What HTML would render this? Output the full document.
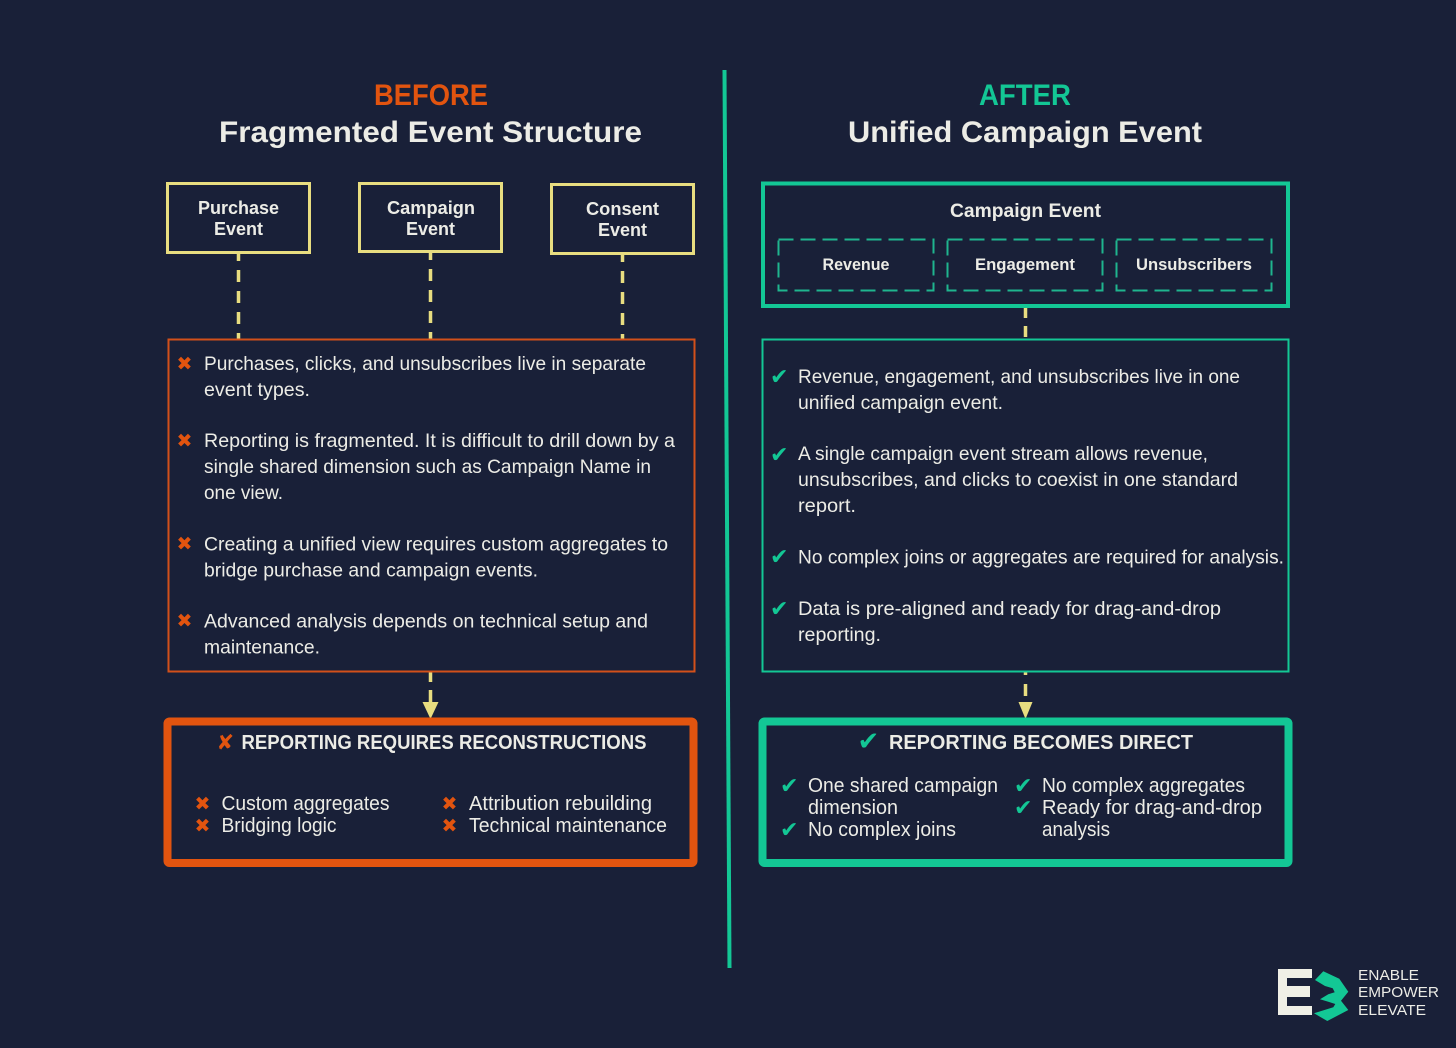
<!DOCTYPE html>
<html><head><meta charset="utf-8">
<style>
html,body{margin:0;padding:0;background:#192038;width:1456px;height:1048px;overflow:hidden}
svg{display:block}
text{font-family:"Liberation Sans",sans-serif;fill:#ecece6}
.bd{font-weight:bold}
.i{font-family:"DejaVu Sans",sans-serif}
</style></head><body>
<svg xmlns="http://www.w3.org/2000/svg" width="1456" height="1048" viewBox="0 0 1456 1048">
<rect width="1456" height="1048" fill="#192038"/>
<!-- divider -->
<line x1="724.500" y1="70" x2="729.500" y2="968" stroke="#13c795" stroke-width="4"/>
<!-- titles -->
<text x="374" y="105" font-size="30" class="bd" textLength="114" lengthAdjust="spacingAndGlyphs" style="fill:#e2540f">BEFORE</text>
<text x="219" y="142" font-size="30" class="bd" textLength="423" lengthAdjust="spacingAndGlyphs">Fragmented Event Structure</text>
<text x="979" y="105" font-size="30" class="bd" textLength="92" lengthAdjust="spacingAndGlyphs" style="fill:#13c795">AFTER</text>
<text x="848" y="142" font-size="30" class="bd" textLength="354" lengthAdjust="spacingAndGlyphs">Unified Campaign Event</text>
<!-- yellow boxes -->
<g fill="none" stroke="#e8dd80" stroke-width="3">
<rect x="167.500" y="183.500" width="142" height="69"/>
<rect x="359.500" y="183.500" width="142" height="68"/>
<rect x="551.500" y="184.500" width="142" height="69"/>
</g>
<text x="198" y="214" class="bd" font-size="18" textLength="81" lengthAdjust="spacingAndGlyphs">Purchase</text>
<text x="214" y="235" class="bd" font-size="18" textLength="49" lengthAdjust="spacingAndGlyphs">Event</text>
<text x="387" y="214" class="bd" font-size="18" textLength="88" lengthAdjust="spacingAndGlyphs">Campaign</text>
<text x="406" y="235" class="bd" font-size="18" textLength="49" lengthAdjust="spacingAndGlyphs">Event</text>
<text x="586" y="215" class="bd" font-size="18" textLength="73" lengthAdjust="spacingAndGlyphs">Consent</text>
<text x="598" y="236" class="bd" font-size="18" textLength="49" lengthAdjust="spacingAndGlyphs">Event</text>
<!-- yellow dashed -->
<g stroke="#e8dd80" stroke-width="3.500" fill="none">
<line x1="238.500" y1="253" x2="238.500" y2="339" stroke-dasharray="12 9" stroke-dashoffset="4"/>
<line x1="430.500" y1="252" x2="430.500" y2="339" stroke-dasharray="12 9" stroke-dashoffset="4"/>
<line x1="622.500" y1="254" x2="622.500" y2="339" stroke-dasharray="12 9" stroke-dashoffset="4"/>
<line x1="1025.500" y1="307" x2="1025.500" y2="339" stroke-dasharray="11 8"/>
<line x1="430.500" y1="672" x2="430.500" y2="682"/>
<line x1="430.500" y1="690" x2="430.500" y2="704"/>
<line x1="1025.500" y1="672" x2="1025.500" y2="675"/>
<line x1="1025.500" y1="684" x2="1025.500" y2="696"/>
</g>
<polygon points="422.500,702 438.500,702 430.500,719" fill="#e8dd80"/>
<polygon points="1018.500,702 1032.500,702 1025.500,719" fill="#e8dd80"/>
<!-- before body -->
<rect x="168.500" y="339.500" width="526" height="332" fill="none" stroke="#d2501a" stroke-width="2"/>
<!-- after header -->
<rect x="763" y="183.500" width="525" height="122.500" fill="none" stroke="#13c795" stroke-width="4"/>
<text x="950" y="217" class="bd" font-size="19" textLength="151" lengthAdjust="spacingAndGlyphs">Campaign Event</text>
<g fill="none" stroke="#1fb58e" stroke-width="2" stroke-dasharray="15 7">
<rect x="778.500" y="239.500" width="155" height="51"/>
<rect x="947.500" y="239.500" width="155" height="51"/>
<rect x="1116.500" y="239.500" width="155" height="51"/>
</g>
<text x="822.500" y="270" class="bd" font-size="16.500" textLength="67" lengthAdjust="spacingAndGlyphs">Revenue</text>
<text x="975" y="270" class="bd" font-size="16.500" textLength="100" lengthAdjust="spacingAndGlyphs">Engagement</text>
<text x="1136" y="270" class="bd" font-size="16.500" textLength="116" lengthAdjust="spacingAndGlyphs">Unsubscribers</text>
<!-- after body -->
<rect x="762.500" y="339.500" width="526" height="332" fill="none" stroke="#13c795" stroke-width="2"/>
<!-- before list -->
<g font-size="19.500">
<text x="204" y="370" textLength="442" lengthAdjust="spacingAndGlyphs">Purchases, clicks, and unsubscribes live in separate</text>
<text x="204" y="396" textLength="106" lengthAdjust="spacingAndGlyphs">event types.</text>
<text x="204" y="447" textLength="471" lengthAdjust="spacingAndGlyphs">Reporting is fragmented. It is difficult to drill down by a</text>
<text x="204" y="473" textLength="447" lengthAdjust="spacingAndGlyphs">single shared dimension such as Campaign Name in</text>
<text x="204" y="499" textLength="79" lengthAdjust="spacingAndGlyphs">one view.</text>
<text x="204" y="550.500" textLength="464" lengthAdjust="spacingAndGlyphs">Creating a unified view requires custom aggregates to</text>
<text x="204" y="576.500" textLength="334" lengthAdjust="spacingAndGlyphs">bridge purchase and campaign events.</text>
<text x="204" y="627.500" textLength="444" lengthAdjust="spacingAndGlyphs">Advanced analysis depends on technical setup and</text>
<text x="204" y="653.500" textLength="116" lengthAdjust="spacingAndGlyphs">maintenance.</text>
</g>
<text class="i" x="176.500" y="370" font-size="19" style="fill:#e2540f">✖</text>
<text class="i" x="176.500" y="447" font-size="19" style="fill:#e2540f">✖</text>
<text class="i" x="176.500" y="550" font-size="19" style="fill:#e2540f">✖</text>
<text class="i" x="176.500" y="627" font-size="19" style="fill:#e2540f">✖</text>
<!-- after list -->
<g font-size="19.500">
<text x="798" y="383" textLength="442" lengthAdjust="spacingAndGlyphs">Revenue, engagement, and unsubscribes live in one</text>
<text x="798" y="409" textLength="205" lengthAdjust="spacingAndGlyphs">unified campaign event.</text>
<text x="798" y="460" textLength="410" lengthAdjust="spacingAndGlyphs">A single campaign event stream allows revenue,</text>
<text x="798" y="486" textLength="440" lengthAdjust="spacingAndGlyphs">unsubscribes, and clicks to coexist in one standard</text>
<text x="798" y="512" textLength="58" lengthAdjust="spacingAndGlyphs">report.</text>
<text x="798" y="563.500" textLength="486" lengthAdjust="spacingAndGlyphs">No complex joins or aggregates are required for analysis.</text>
<text x="798" y="615" textLength="423" lengthAdjust="spacingAndGlyphs">Data is pre-aligned and ready for drag-and-drop</text>
<text x="798" y="641" textLength="83" lengthAdjust="spacingAndGlyphs">reporting.</text>
</g>
<text class="i" x="770" y="384" font-size="22" style="fill:#13c795">✔</text>
<text class="i" x="770" y="462" font-size="22" style="fill:#13c795">✔</text>
<text class="i" x="770" y="564" font-size="22" style="fill:#13c795">✔</text>
<text class="i" x="770" y="616" font-size="22" style="fill:#13c795">✔</text>
<!-- before result -->
<rect x="167.500" y="721.500" width="526" height="141.500" rx="2" fill="none" stroke="#e2540f" stroke-width="8"/>
<text class="i" x="216.500" y="749.500" font-size="21" style="fill:#e2540f">✘</text>
<text x="241.500" y="749" class="bd" font-size="20" textLength="405" lengthAdjust="spacingAndGlyphs">REPORTING REQUIRES RECONSTRUCTIONS</text>
<text x="221.500" y="810" font-size="20" textLength="168" lengthAdjust="spacingAndGlyphs">Custom aggregates</text>
<text x="221.500" y="832" font-size="20" textLength="115" lengthAdjust="spacingAndGlyphs">Bridging logic</text>
<text x="469" y="810" font-size="20" textLength="183" lengthAdjust="spacingAndGlyphs">Attribution rebuilding</text>
<text x="469" y="832" font-size="20" textLength="198" lengthAdjust="spacingAndGlyphs">Technical maintenance</text>
<text class="i" x="194.500" y="810" font-size="19" style="fill:#e2540f">✖</text>
<text class="i" x="194.500" y="832" font-size="19" style="fill:#e2540f">✖</text>
<text class="i" x="441.500" y="810" font-size="19" style="fill:#e2540f">✖</text>
<text class="i" x="441.500" y="832" font-size="19" style="fill:#e2540f">✖</text>
<!-- after result -->
<rect x="762.500" y="721.500" width="526" height="141.500" rx="2" fill="none" stroke="#13c795" stroke-width="8"/>
<text class="i" x="857.500" y="750" font-size="26" style="fill:#13c795">✔</text>
<text x="889" y="749" class="bd" font-size="20" textLength="304" lengthAdjust="spacingAndGlyphs">REPORTING BECOMES DIRECT</text>
<text x="808" y="792" font-size="20" textLength="190" lengthAdjust="spacingAndGlyphs">One shared campaign</text>
<text x="808" y="814" font-size="20" textLength="90" lengthAdjust="spacingAndGlyphs">dimension</text>
<text x="808" y="836" font-size="20" textLength="148" lengthAdjust="spacingAndGlyphs">No complex joins</text>
<text x="1042" y="792" font-size="20" textLength="203" lengthAdjust="spacingAndGlyphs">No complex aggregates</text>
<text x="1042" y="814" font-size="20" textLength="220" lengthAdjust="spacingAndGlyphs">Ready for drag-and-drop</text>
<text x="1042" y="836" font-size="20" textLength="68" lengthAdjust="spacingAndGlyphs">analysis</text>
<text class="i" x="780" y="793" font-size="22" style="fill:#13c795">✔</text>
<text class="i" x="780" y="837" font-size="22" style="fill:#13c795">✔</text>
<text class="i" x="1014" y="793" font-size="22" style="fill:#13c795">✔</text>
<text class="i" x="1014" y="815" font-size="22" style="fill:#13c795">✔</text>
<!-- logo -->
<path d="M1278 969h34v9h-25v8h23v11h-23v9h25v9h-34z" fill="#efefe6"/>
<path d="M1315 980L1323.300 971.300L1339.300 978.700L1348.300 991.700L1341 1000.700L1348.300 1010L1327.300 1021L1314 1013.300L1333.300 1007.300L1335.300 1004L1328.300 1001.700L1320 999.300L1328.300 994.300L1334.700 992.300L1332.700 988.300L1325 986Z" fill="#13c795"/>
<text x="1358" y="980" font-size="15" textLength="61" lengthAdjust="spacingAndGlyphs">ENABLE</text>
<text x="1358" y="997" font-size="15" textLength="81" lengthAdjust="spacingAndGlyphs">EMPOWER</text>
<text x="1358" y="1015" font-size="15" textLength="68" lengthAdjust="spacingAndGlyphs">ELEVATE</text>
</svg>
</body></html>
